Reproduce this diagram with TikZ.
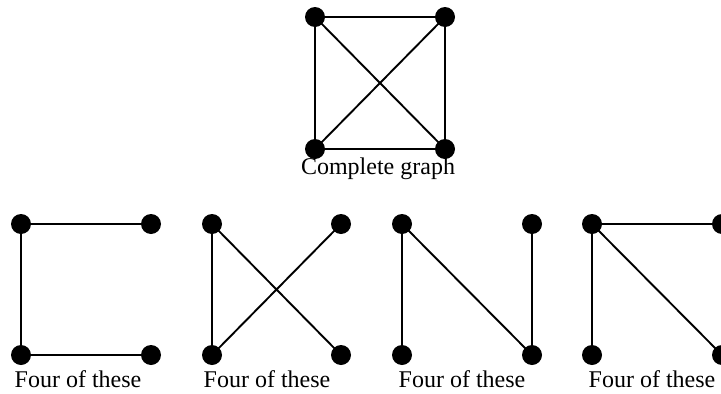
\documentclass[tikz,border=0pt]{standalone}
\usepackage{fontspec}
\setmainfont{Liberation Serif}
\begin{document}
\begin{tikzpicture}[x=1pt,y=-1pt,
  vtx/.style={circle,fill=black,inner sep=0pt,minimum size=20pt},
  edge/.style={line width=1.9pt},
  lbl/.style={anchor=base,inner sep=0pt,font=\fontsize{24}{28}\selectfont}]
\useasboundingbox (0,0) rectangle (721,394);
% complete graph
\node[vtx] (a1) at (315,17) {};
\node[vtx] (a2) at (445,17) {};
\node[vtx] (a3) at (315,149) {};
\node[vtx] (a4) at (445,149) {};
\draw[edge] (a1.center) -- (a2.center) -- (a4.center) -- (a3.center) -- cycle;
\draw[edge] (a1.center) -- (a4.center);
\draw[edge] (a2.center) -- (a3.center);
\node[lbl] (la) at (378,174) {Complete graph};
% graph 1
\node[vtx] (b1) at (21,224) {};
\node[vtx] (b2) at (151,224) {};
\node[vtx] (b3) at (21,355) {};
\node[vtx] (b4) at (151,355) {};
\draw[edge] (b2.center) -- (b1.center) -- (b3.center) -- (b4.center);
\node[lbl] (lb) at (78,387) {Four of these};
% graph 2
\node[vtx] (c1) at (212,224) {};
\node[vtx] (c2) at (341,224) {};
\node[vtx] (c3) at (212,355) {};
\node[vtx] (c4) at (341,355) {};
\draw[edge] (c4.center) -- (c1.center) -- (c3.center) -- (c2.center);
\node[lbl] (lc) at (267,387) {Four of these};
% graph 3
\node[vtx] (d1) at (402,224) {};
\node[vtx] (d2) at (532,224) {};
\node[vtx] (d3) at (402,355) {};
\node[vtx] (d4) at (532,355) {};
\draw[edge] (d3.center) -- (d1.center) -- (d4.center) -- (d2.center);
\node[lbl] (ld) at (462,387) {Four of these};
% graph 4
\node[vtx] (e1) at (592,224) {};
\node[vtx] (e2) at (722,224) {};
\node[vtx] (e3) at (592,355) {};
\node[vtx] (e4) at (722,355) {};
\draw[edge] (e1.center) -- (e2.center);
\draw[edge] (e1.center) -- (e3.center);
\draw[edge] (e1.center) -- (e4.center);
\node[lbl] (le) at (652,387) {Four of these};
\end{tikzpicture}
\end{document}
